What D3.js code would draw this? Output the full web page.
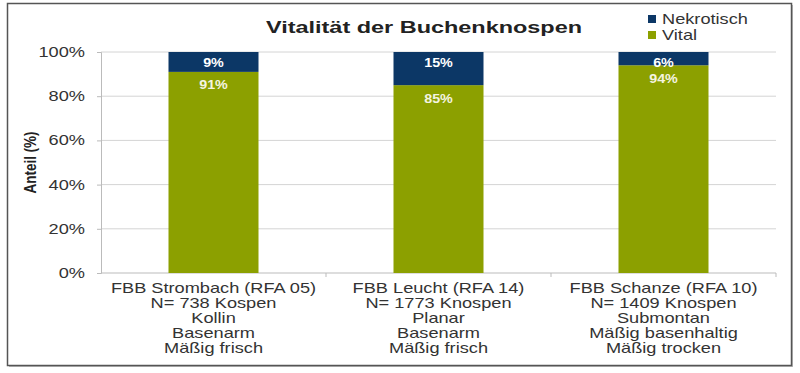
<!DOCTYPE html>
<html>
<head>
<meta charset="utf-8">
<script src="https://cdn.jsdelivr.net/npm/d3@7"></script>
<style>
body { margin: 0; background: #fff; }
text { font-family: "Liberation Sans", Arial, sans-serif; }
</style>
</head>
<body>
<div id="chart"></div>
<script>
var categories = ["Strombach", "Leucht", "Schanze"];
var catLabels = [
    ["FBB Strombach (RFA 05)", "N= 738 Kospen", "Kollin", "Basenarm", "Mäßig frisch"],
    ["FBB Leucht (RFA 14)", "N= 1773 Knospen", "Planar", "Basenarm", "Mäßig frisch"],
    ["FBB Schanze (RFA 10)", "N= 1409 Knospen", "Submontan", "Mäßig basenhaltig", "Mäßig trocken"]
];
var vital = [91, 85, 94];
var nekrotisch = [9, 15, 6];
var seriesNames = ["Nekrotisch", "Vital"];
var yTicks = [0, 20, 40, 60, 80, 100];

var W = 800, H = 373;
var SX = 1.3; // the reference text is stretched horizontally
var margin = { top: 52, right: 24, bottom: 100, left: 101 },
    width = 776 - margin.left,
    height = 273 - margin.top;

var svg = d3.select("#chart").append("svg")
    .attr("width", W).attr("height", H);

function stretched(parent, px, py, sx) {
    return parent.append("text")
        .attr("transform", "translate(" + px + "," + py + ") scale(" + sx + ",1)");
}

// outer frame with a light shadow
svg.append("rect")
    .attr("x", 9).attr("y", 5)
    .attr("width", 784).attr("height", 362)
    .attr("fill", "#bbb");
svg.append("rect")
    .attr("x", 7.5).attr("y", 3.5)
    .attr("width", 784).attr("height", 362)
    .attr("fill", "#fff")
    .attr("stroke", "#555").attr("stroke-width", 1.5);

var g = svg.append("g")
    .attr("transform", "translate(" + margin.left + "," + margin.top + ")");

var x = d3.scaleBand().domain(categories).range([0, width]).paddingInner(0.6).paddingOuter(0.3);
var xb = d3.scaleBand().domain(categories).range([0, width]);
var y = d3.scaleLinear().domain([0, 100]).range([height, 0]);

var color = d3.scaleOrdinal().domain(seriesNames).range(["#0c3766", "#8ca000"]);

// gridlines
g.append("g").selectAll("line")
    .data(yTicks.filter(function (d) { return d > 0; }))
    .enter().append("line")
    .attr("x1", 0).attr("x2", width)
    .attr("y1", function (d) { return y(d); })
    .attr("y2", function (d) { return y(d); })
    .attr("stroke", "#d4d4d4").attr("stroke-width", 1);

// y axis
var yAxis = g.append("g")
    .call(d3.axisLeft(y).tickValues(yTicks).tickSize(4).tickFormat(""));
yAxis.select(".domain").attr("stroke", "#bbb");
yAxis.selectAll(".tick line").attr("stroke", "#bbb");
yTicks.forEach(function (t) {
    stretched(g, -16, y(t), SX)
        .attr("dy", "0.35em")
        .attr("text-anchor", "end")
        .attr("font-size", 14).attr("fill", "#333")
        .text(t + "%");
});

// x axis line and category tick marks
g.append("line")
    .attr("x1", 0).attr("x2", width)
    .attr("y1", height).attr("y2", height)
    .attr("stroke", "#bbb");
g.append("g").selectAll("line")
    .data(categories)
    .enter().append("line")
    .attr("x1", function (d) { return xb(d) + xb.bandwidth(); })
    .attr("x2", function (d) { return xb(d) + xb.bandwidth(); })
    .attr("y1", height).attr("y2", height + 4)
    .attr("stroke", "#bbb");

// bars
var data = categories.map(function (c, i) {
    return { cat: c, vital: vital[i], nekrotisch: nekrotisch[i] };
});

data.forEach(function (d) {
    var cx = x(d.cat) + x.bandwidth() / 2;
    g.append("rect")
        .attr("x", x(d.cat)).attr("width", x.bandwidth())
        .attr("y", y(d.vital)).attr("height", y(0) - y(d.vital))
        .attr("fill", color("Vital"));
    g.append("rect")
        .attr("x", x(d.cat)).attr("width", x.bandwidth())
        .attr("y", y(d.vital + d.nekrotisch)).attr("height", y(d.vital) - y(d.vital + d.nekrotisch))
        .attr("fill", color("Nekrotisch"));

    stretched(g, cx, y(d.vital + d.nekrotisch) + 10, 1.1)
        .attr("dy", "0.35em")
        .attr("text-anchor", "middle")
        .attr("font-size", 13).attr("font-weight", "bold")
        .attr("fill", "#fff")
        .text(d.nekrotisch + "%");
    stretched(g, cx, y(d.vital) + 13, 1.1)
        .attr("dy", "0.35em")
        .attr("text-anchor", "middle")
        .attr("font-size", 13).attr("font-weight", "bold")
        .attr("fill", "#f4f4e0")
        .text(d.vital + "%");
});

// category labels
categories.forEach(function (c, i) {
    catLabels[i].forEach(function (line, j) {
        stretched(g, xb(c) + xb.bandwidth() / 2, height + 20 + j * 15, SX)
            .attr("text-anchor", "middle")
            .attr("font-size", 14).attr("fill", "#333")
            .text(line);
    });
});

// y axis title (glyphs stretched horizontally on screen as well)
svg.append("text")
    .attr("transform", "translate(36," + (margin.top + height / 2) + ") rotate(-90) scale(1,1.25)")
    .attr("text-anchor", "middle")
    .attr("font-size", 13.5).attr("font-weight", "bold")
    .attr("fill", "#222")
    .text("Anteil (%)");

// title
stretched(svg, 424, 33, 1.38)
    .attr("text-anchor", "middle")
    .attr("font-size", 17).attr("font-weight", "bold")
    .attr("fill", "#222")
    .text("Vitalität der Buchenknospen");

// legend
var legend = svg.append("g").attr("transform", "translate(648,13)");
seriesNames.forEach(function (s, i) {
    var item = legend.append("g").attr("transform", "translate(0," + (i * 16) + ")");
    item.append("rect")
        .attr("x", 0).attr("y", 2)
        .attr("width", 8).attr("height", 8)
        .attr("fill", color(s));
    stretched(item, 14, 6, SX)
        .attr("dy", "0.35em")
        .attr("font-size", 14).attr("fill", "#333")
        .text(s);
});
</script>
</body>
</html>
